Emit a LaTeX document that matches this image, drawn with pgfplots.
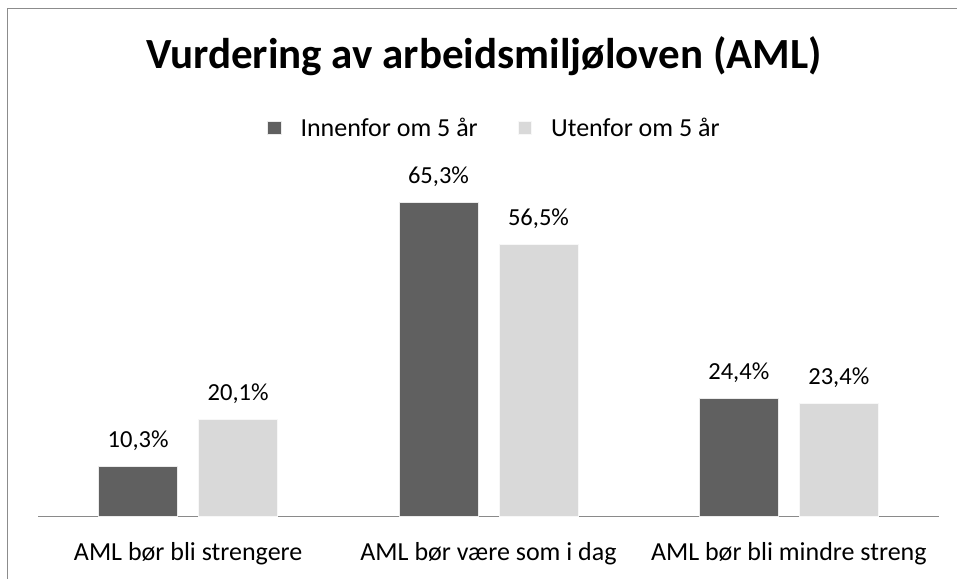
\documentclass[border=0pt]{standalone}
\usepackage{pgfplots}
\pgfplotsset{compat=1.18}
\usepackage{fontspec}
\setmainfont{Carlito}
\definecolor{darkbar}{HTML}{606060}
\definecolor{lightbar}{HTML}{D9D9D9}
\definecolor{framegray}{HTML}{8C8C8C}
\definecolor{axisgray}{HTML}{8A8A8A}
\begin{document}
\begin{tikzpicture}[x=1pt,y=1pt]
\path[use as bounding box] (0,0) rectangle (957,578);
\draw[framegray, line width=1.8pt] (7.5,-2) -- (7.5,569.5) -- (960,569.5);
\begin{axis}[
  at={(38pt,62pt)}, anchor=south west,
  scale only axis, width=901pt, height=336pt,
  xmin=-0.5, xmax=2.5, ymin=0, ymax=70,
  enlargelimits=false, clip=false,
  ybar=21pt, bar width=79pt,
  axis x line*=bottom, axis y line=none,
  x axis line style={axisgray, line width=1pt, -},
  xtick={0,1,2}, major tick length=0pt,
  xticklabels={AML bør bli strengere, AML bør være som i dag, AML bør bli mindre streng},
  xticklabel style={font=\fontsize{26}{30}\selectfont, anchor=base, yshift=-44pt, inner sep=0pt},
  ytick=\empty,
  /pgf/number format/assume math mode=true,
  nodes near coords={\pgfmathprintnumber[fixed,precision=1,fixed zerofill,use comma]{\pgfplotspointmeta}\%},
  every node near coord/.append style={font=\fontsize{24.5}{28}\selectfont, anchor=base, yshift=19pt, inner sep=0pt, text=black},
  title={Vurdering av arbeidsmiljøloven (AML)},
  title style={at={(0.495,1.315)}, anchor=base, inner sep=0pt, font=\bfseries\fontsize{43}{48}\selectfont},
  legend columns=2,
  legend style={at={(0.5055,1.155)}, anchor=center, draw=none, fill=none,
    font=\fontsize{26}{30}\selectfont, inner sep=0pt,
    nodes={inner sep=0pt, anchor=west},
    /tikz/every odd column/.append style={column sep=19pt},
    /tikz/every even column/.append style={column sep=40pt}},
  legend image code/.code={\fill[#1] (0pt,-6.5pt) rectangle (13.5pt,6.5pt);},
]
\addplot[fill=darkbar, draw=white!92!black, line width=0.8pt] coordinates {(0,10.3) (1,65.3) (2,24.4)};
\addplot[fill=lightbar, draw=white!97!black, line width=0.8pt] coordinates {(0,20.1) (1,56.5) (2,23.4)};
\legend{Innenfor om 5 år, Utenfor om 5 år}
\end{axis}
\end{tikzpicture}
\end{document}
